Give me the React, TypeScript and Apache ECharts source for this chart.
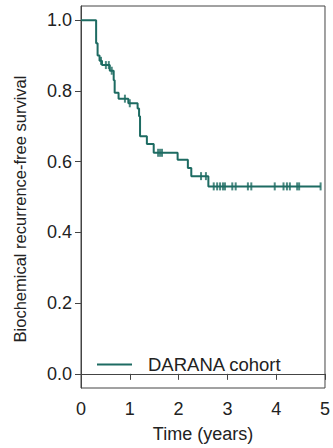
import React, { useEffect, useRef } from "react";
import * as echarts from "echarts";

const seriesName = "DARANA cohort";
const stepTimes = [0, 0.31, 0.34, 0.38, 0.43, 0.59, 0.67, 0.69, 0.77, 0.97, 1.16, 1.19, 1.21, 1.35, 1.49, 1.98, 2.19, 2.26, 2.61, 4.91];
const stepSurvival = [1.0, 0.935, 0.9, 0.885, 0.873, 0.857, 0.83, 0.795, 0.778, 0.765, 0.75, 0.728, 0.672, 0.65, 0.625, 0.605, 0.582, 0.559, 0.53, 0.53];
const censorTimes = [0.41, 0.51, 0.57, 0.63, 0.9, 1.0, 1.58, 1.62, 1.66, 2.46, 2.56, 2.72, 2.79, 2.85, 2.91, 2.95, 3.1, 3.17, 3.42, 3.49, 3.97, 4.15, 4.22, 4.28, 4.43, 4.47, 4.91];
const xTicks = [0, 1, 2, 3, 4, 5];
const yTicks = [0, 0.2, 0.4, 0.6, 0.8, 1.0];

const COLOR = "#1d6b62";
const FONT = "Liberation Sans, Arial, Helvetica, sans-serif";

function survAt(t: number): number {
  let s = stepSurvival[0];
  for (let i = 0; i < stepTimes.length; i++) {
    if (stepTimes[i] <= t) s = stepSurvival[i];
  }
  return s;
}

export default function App() {
  const ref = useRef<HTMLDivElement>(null);
  useEffect(() => {
    if (!ref.current) return;
    const chart = echarts.init(ref.current, undefined, { renderer: "svg" });
    const lineData = stepTimes.map((t, i) => [t, stepSurvival[i]]);
    const censorData = censorTimes.map((t) => [t, survAt(t)]);
    chart.setOption({
      animation: false,
      grid: {
        left: 81,
        right: 4,
        top: 6,
        bottom: 59,
        show: true,
        borderColor: "#444",
        borderWidth: 1,
      },
      legend: {
        data: [seriesName],
        left: 97,
        top: 355,
        padding: 0,
        icon: "rect",
        itemWidth: 35,
        itemHeight: 2,
        textStyle: { fontFamily: FONT, fontSize: 18.5, color: "#222", padding: [0, 0, 0, 11] },
      },
      xAxis: {
        type: "value",
        min: xTicks[0],
        max: xTicks[xTicks.length - 1],
        interval: 1,
        axisLine: { show: true, lineStyle: { color: "#444", width: 1 } },
        axisTick: { show: true, length: 6, lineStyle: { color: "#444" } },
        axisLabel: { margin: 12, fontFamily: FONT, fontSize: 18, color: "#222", formatter: (v: number) => String(v) },
        splitLine: { show: false },
        name: "Time (years)",
        nameLocation: "middle",
        nameGap: 37,
        nameTextStyle: { fontFamily: FONT, fontSize: 18, color: "#222" },
      },
      yAxis: {
        type: "value",
        min: -0.04,
        max: 1.04,
        axisLine: { show: true, lineStyle: { color: "#444", width: 1 } },
        axisTick: { show: true, length: 6, customValues: yTicks, lineStyle: { color: "#444" } },
        axisLabel: {
          margin: 9,
          fontFamily: FONT,
          fontSize: 18,
          color: "#222",
          customValues: yTicks,
          formatter: (v: number) => v.toFixed(1),
        },
        splitLine: { show: false },
      },
      graphic: [
        {
          type: "text",
          x: 20,
          y: 209,
          rotation: Math.PI / 2,
          style: {
            text: "Biochemical recurrence-free survival",
            fontFamily: FONT,
            fontSize: 16.5,
            fill: "#222",
            textAlign: "center",
            textVerticalAlign: "middle",
          },
        },
      ],
      series: [
        {
          name: seriesName,
          type: "line",
          step: "end",
          data: lineData,
          showSymbol: false,
          symbol: "none",
          lineStyle: { color: COLOR, width: 2 },
          itemStyle: { color: COLOR },
        },
        {
          name: "censored",
          type: "scatter",
          data: censorData,
          symbol: "rect",
          symbolSize: [2, 8],
          itemStyle: { color: COLOR },
        },
      ],
    });
    return () => chart.dispose();
  }, []);
  return <div ref={ref} style={{ width: 333, height: 448, position: "absolute", left: 0, top: 0 }} />;
}
